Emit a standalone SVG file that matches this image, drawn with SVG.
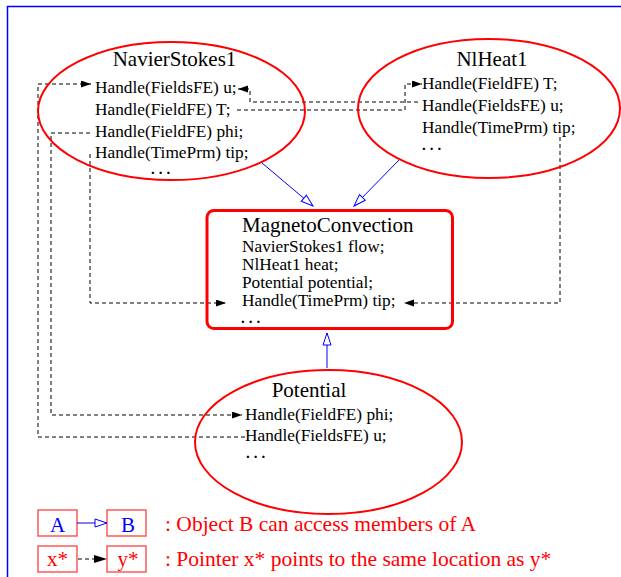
<svg xmlns="http://www.w3.org/2000/svg" width="621" height="577" viewBox="0 0 621 577">
<style>
text { font-family: "Liberation Serif", "Times New Roman", serif; fill: #000; }
.title { font-size: 21px; }
.body { font-size: 17.3px; }
.dots { font-size: 15px; font-weight: bold; letter-spacing: 4px; }
.node { fill: none; stroke: #ff0000; stroke-width: 2; }
.ptr { fill: none; stroke: #000; stroke-width: 1; stroke-dasharray: 4 3; marker-end: url(#fill); }
.inh { fill: none; stroke: #0000ff; stroke-width: 1; marker-end: url(#open); }
.leg { font-size: 21.5px; fill: #ff0000; }
.lbox { fill: none; stroke: #ff4040; stroke-width: 1.3; }
</style>
<defs>
<marker id="fill" markerUnits="userSpaceOnUse" markerWidth="11" markerHeight="8" refX="10" refY="3.5" orient="auto">
<path d="M0,0 L10,3.5 L0,7 z" fill="#000"/>
</marker>
<marker id="open" markerUnits="userSpaceOnUse" markerWidth="15" markerHeight="11" refX="13" refY="5" orient="auto">
<path d="M1,1 L13,5 L1,9 z" fill="#fff" stroke="#0000ff" stroke-width="1"/>
</marker>
</defs>
<rect width="621" height="577" fill="#fff"/>
<path d="M7.5,577 L7.5,6.5 L621,6.5" fill="none" stroke="#0000ff" stroke-width="1.5"/>

<g id="connectors">
<path class="ptr" d="M418,102 L250,102 L250,89 L238,89"/>
<path class="ptr" d="M237,110 L405,110 L405,84 L422,84"/>
<path class="ptr" d="M90,133 L51,133 L51,415 L242,415"/>
<path class="ptr" d="M245,437 L38,437 L38,84 L91,84"/>
<path class="ptr" d="M90,154 L90,303 L226,303"/>
<path class="ptr" d="M560,137 L560,303 L404,303"/>
<path class="inh" d="M262,163 L313,206"/>
<path class="inh" d="M400,159 L354,206"/>
<path class="inh" d="M327,368 L327,333"/>
</g>

<g id="NavierStokes1">
<ellipse class="node" cx="171.5" cy="111" rx="133.5" ry="69"/>
<text class="title" x="174.5" y="66" text-anchor="middle">NavierStokes1</text>
<text class="body" x="95" y="93">Handle(FieldsFE) u;</text>
<text class="body" x="95" y="115">Handle(FieldFE) T;</text>
<text class="body" x="95" y="137">Handle(FieldFE) phi;</text>
<text class="body" x="95" y="158">Handle(TimePrm) tip;</text>
<text class="dots" x="151" y="174">...</text>
</g>

<g id="NlHeat1">
<ellipse class="node" cx="489" cy="108.5" rx="131" ry="69.5"/>
<text class="title" x="492" y="66" text-anchor="middle">NlHeat1</text>
<text class="body" x="422" y="89">Handle(FieldFE) T;</text>
<text class="body" x="422" y="111">Handle(FieldsFE) u;</text>
<text class="body" x="422" y="133">Handle(TimePrm) tip;</text>
<text class="dots" x="422" y="150">...</text>
</g>

<g id="MagnetoConvection">
<rect x="207" y="210.5" width="245.5" height="118" rx="7" fill="none" stroke="#ff0000" stroke-width="3"/>
<text class="title" x="242" y="232">MagnetoConvection</text>
<text class="body" x="242" y="252">NavierStokes1 flow;</text>
<text class="body" x="242" y="270">NlHeat1 heat;</text>
<text class="body" x="242" y="288">Potential potential;</text>
<text class="body" x="242" y="306">Handle(TimePrm) tip;</text>
<text class="dots" x="241" y="323">...</text>
</g>

<g id="Potential">
<ellipse class="node" cx="328.5" cy="442" rx="133.5" ry="72"/>
<text class="title" x="309" y="397" text-anchor="middle">Potential</text>
<text class="body" x="245" y="420">Handle(FieldFE) phi;</text>
<text class="body" x="245" y="441">Handle(FieldsFE) u;</text>
<text class="dots" x="246" y="458">...</text>
</g>

<g id="legend">
<rect class="lbox" x="38" y="510" width="39" height="26"/>
<rect class="lbox" x="107" y="510" width="39" height="26"/>
<rect class="lbox" x="38" y="546" width="39" height="26"/>
<rect class="lbox" x="107" y="546" width="39" height="26"/>
<path d="M77,523 L95,523" stroke="#0000ff" stroke-width="1" fill="none"/>
<path d="M95,519 L107,523 L95,527 z" fill="#fff" stroke="#0000ff" stroke-width="1"/>
<path d="M78,559 L94,559" stroke="#000" stroke-width="1" stroke-dasharray="4 3" fill="none"/>
<path d="M94,555 L107,559 L94,563 z" fill="#000"/>
<text x="57.5" y="532" text-anchor="middle" style="font-size:21px;fill:#0000ff">A</text>
<text x="128" y="532" text-anchor="middle" style="font-size:21px;fill:#0000ff">B</text>
<text x="57.5" y="566" text-anchor="middle" style="font-size:21px;fill:#ff0000">x*</text>
<text x="128" y="566" text-anchor="middle" style="font-size:21px;fill:#ff0000">y*</text>
<text class="leg" x="165" y="531">: Object B can access members of A</text>
<text class="leg" x="165" y="566">: Pointer x* points to the same location as y*</text>
</g>
</svg>
